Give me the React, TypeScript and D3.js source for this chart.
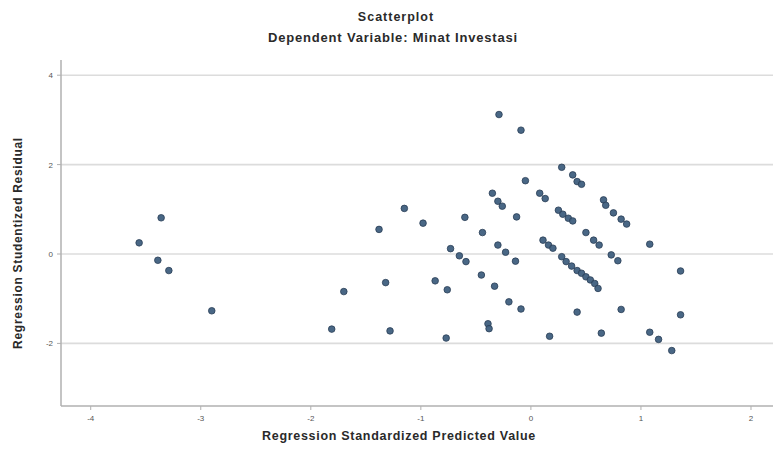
import React from "react";
import * as d3 from "d3";

const W = 773;
const H = 453;

const title = "Scatterplot";
const subtitle = "Dependent Variable: Minat Investasi";
const xLabel = "Regression Standardized Predicted Value";
const yLabel = "Regression Studentized Residual";

const xTicks = [-4, -3, -2, -1, 0, 1, 2];
const yTicks = [-2, 0, 2, 4];

const predicted = [
  -3.56, -3.36, -3.39, -3.29, -2.90, -1.70, -1.81,
  -0.29, -0.09, -0.05, -0.35, -0.30, -0.26, -1.15, -0.98, -1.38, -0.60, -0.13, -0.44, 0.08, 0.13,
  -0.73, -0.65, -0.59, -0.30, -0.23, -0.14, -0.45, -0.33, -0.87, -0.76, -1.32, -0.20, -0.09,
  -1.28, -0.77, -0.39, -0.38, 0.17,
  0.28, 0.38, 0.42, 0.46, 0.66, 0.68, 0.75, 0.82, 0.87,
  0.25, 0.29, 0.34, 0.38, 0.50, 0.57, 0.62, 0.11, 0.16, 0.20,
  0.73, 0.79, 1.08,
  0.28, 0.32, 0.37, 0.42, 0.46, 0.50, 0.54, 0.58, 0.61,
  1.36, 0.42, 0.82, 1.36, 0.64, 1.08, 1.16, 1.28,
];

const residual = [
  0.25, 0.81, -0.14, -0.37, -1.27, -0.84, -1.68,
  3.12, 2.77, 1.64, 1.36, 1.18, 1.07, 1.02, 0.69, 0.55, 0.82, 0.83, 0.48, 1.36, 1.24,
  0.12, -0.04, -0.17, 0.20, 0.04, -0.16, -0.47, -0.72, -0.60, -0.80, -0.64, -1.07, -1.23,
  -1.72, -1.88, -1.56, -1.67, -1.84,
  1.94, 1.77, 1.62, 1.56, 1.21, 1.09, 0.92, 0.78, 0.67,
  0.98, 0.89, 0.80, 0.74, 0.48, 0.31, 0.20, 0.31, 0.20, 0.13,
  -0.02, -0.15, 0.22,
  -0.06, -0.17, -0.27, -0.37, -0.43, -0.51, -0.58, -0.66, -0.77,
  -0.38, -1.30, -1.24, -1.36, -1.77, -1.75, -1.91, -2.16,
];

export default function App() {
  const left = 61;
  const right = 773;
  const top = 60;
  const bottom = 406;
  const x = d3.scaleLinear().domain([-4.27, 2.2]).range([left, right]);
  const y = d3.scaleLinear().domain([-3.4, 4.34]).range([bottom, top]);
  const pts = predicted.map((p, i) => ({ px: p, py: residual[i] }));
  const font = "'Liberation Sans', Arial, sans-serif";

  return (
    <svg
      width={W}
      height={H}
      style={{ position: "absolute", left: 0, top: 0, background: "#fff" }}
      fontFamily={font}
    >
      <rect x={0} y={0} width={W} height={H} fill="#fff" />
      <text x={396} y={21} textAnchor="middle" fontSize={12.5} letterSpacing={1} fontWeight="bold" fill="#2a2a2a">
        {title}
      </text>
      <text x={393} y={42} textAnchor="middle" fontSize={13} letterSpacing={0.8} fontWeight="bold" fill="#2a2a2a">
        {subtitle}
      </text>

      {yTicks.map((t) => (
        <line key={"g" + t} x1={left} x2={right} y1={y(t)} y2={y(t)} stroke="#dcdcdc" strokeWidth={1.6} />
      ))}

      <line x1={left} x2={left} y1={top} y2={bottom} stroke="#b0b0b0" strokeWidth={1.5} />
      <line x1={left} x2={right} y1={bottom} y2={bottom} stroke="#b0b0b0" strokeWidth={1.5} />

      {yTicks.map((t) => (
        <g key={"yt" + t}>
          <line x1={left - 4} x2={left} y1={y(t)} y2={y(t)} stroke="#b0b0b0" />
          <text x={left - 8} y={y(t) + 3} textAnchor="end" fontSize={8} fill="#555">
            {t}
          </text>
        </g>
      ))}
      {xTicks.map((t) => (
        <g key={"xt" + t}>
          <line x1={x(t)} x2={x(t)} y1={bottom} y2={bottom + 4} stroke="#b0b0b0" />
          <text x={x(t)} y={bottom + 15} textAnchor="middle" fontSize={8} fill="#555">
            {t}
          </text>
        </g>
      ))}

      <text
        transform={`translate(22, 243) rotate(-90)`}
        textAnchor="middle"
        fontSize={12}
        letterSpacing={0.7}
        fontWeight="bold"
        fill="#2a2a2a"
      >
        {yLabel}
      </text>
      <text x={399} y={440} textAnchor="middle" fontSize={12.5} letterSpacing={0.7} fontWeight="bold" fill="#2a2a2a">
        {xLabel}
      </text>

      {pts.map((d, i) => (
        <circle
          key={i}
          cx={x(d.px)}
          cy={y(d.py)}
          r={3.3}
          fill="#3f5f7e"
          stroke="#2a3e55"
          strokeWidth={0.8}
          fillOpacity={0.95}
        />
      ))}
    </svg>
  );
}
